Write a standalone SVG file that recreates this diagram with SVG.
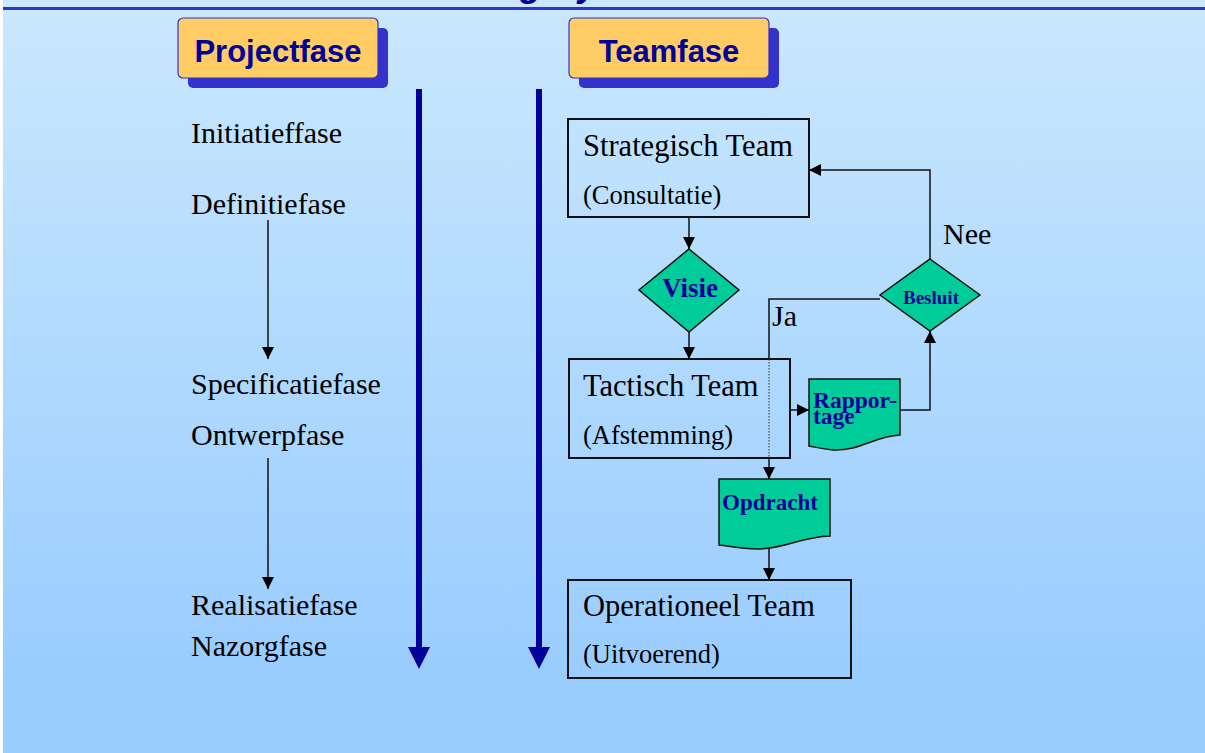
<svg xmlns="http://www.w3.org/2000/svg" width="1205" height="753" viewBox="0 0 1205 753">
  <style>
    .hdr { fill: #ffcc66; stroke: #3333cc; stroke-width: 1.2; }
    .hdr-shadow { fill: #3333cc; }
    .hdr-text { font-family: "Liberation Sans", Arial, sans-serif; font-weight: bold; font-size: 31px; fill: #000099; text-anchor: middle; }
    .phase { font-family: "Liberation Serif", "Times New Roman", serif; font-size: 30px; fill: #000; }
    .team { fill: none; stroke: #111; stroke-width: 2; }
    .t-big { font-family: "Liberation Serif", "Times New Roman", serif; font-size: 30.5px; fill: #000; }
    .t-small { font-family: "Liberation Serif", "Times New Roman", serif; font-size: 26.5px; fill: #000; }
    .shape { fill: #00cc99; stroke: #111; stroke-width: 1.5; }
    .lbl { font-family: "Liberation Serif", "Times New Roman", serif; font-weight: bold; fill: #000099; }
    .conn { fill: none; stroke: #111; stroke-width: 1.5; }
    .flow { stroke: #000099; stroke-width: 6; }
    .edge-text { font-family: "Liberation Serif", "Times New Roman", serif; font-size: 30px; fill: #000; }
    .title { font-family: "Liberation Sans", Arial, sans-serif; font-weight: bold; font-style: italic; font-size: 36px; fill: #000099; }
  </style>
  <defs>
    <linearGradient id="bg" x1="0" y1="0" x2="0" y2="1">
      <stop offset="0" stop-color="#cae8fd"/>
      <stop offset="0.9" stop-color="#99ccff"/>
      <stop offset="1" stop-color="#99ccff"/>
    </linearGradient>
    <marker id="ah" viewBox="0 0 12 12" refX="12" refY="6" markerWidth="12" markerHeight="12" markerUnits="userSpaceOnUse" orient="auto">
      <path d="M0,0 L12,6 L0,12 Z" fill="#000"/>
    </marker>
  </defs>

  <!-- background -->
  <rect x="0" y="0" width="1205" height="753" fill="#ffffff"/>
  <rect x="3" y="0" width="1202" height="753" fill="url(#bg)"/>

  <!-- title: only the descenders reach into the sheet -->
  <text class="title" x="520" y="-4">g</text>
  <text class="title" x="578" y="-4">y</text>
  <rect x="3" y="7" width="1202" height="3" fill="#3333cc"/>

  <!-- column headers -->
  <g id="hdr-project">
    <rect class="hdr-shadow" x="188" y="28" width="200" height="60" rx="5"/>
    <rect class="hdr" x="178" y="18" width="200" height="60" rx="5"/>
    <text class="hdr-text" x="278" y="62">Projectfase</text>
  </g>
  <g id="hdr-team">
    <rect class="hdr-shadow" x="579" y="28" width="200" height="60" rx="5"/>
    <rect class="hdr" x="569" y="18" width="200" height="60" rx="5"/>
    <text class="hdr-text" x="669" y="62">Teamfase</text>
  </g>

  <!-- time axes -->
  <g id="axes">
    <line class="flow" x1="419" y1="89" x2="419" y2="650"/>
    <path d="M408,647 L430,647 L419,669 Z" fill="#000099"/>
    <line class="flow" x1="539" y1="89" x2="539" y2="650"/>
    <path d="M528,647 L550,647 L539,669 Z" fill="#000099"/>
  </g>

  <!-- project phases -->
  <g id="phases">
    <text class="phase" x="191" y="143">Initiatieffase</text>
    <text class="phase" x="191" y="214">Definitiefase</text>
    <text class="phase" x="191" y="394">Specificatiefase</text>
    <text class="phase" x="191" y="445">Ontwerpfase</text>
    <text class="phase" x="191" y="615">Realisatiefase</text>
    <text class="phase" x="191" y="656">Nazorgfase</text>
  </g>

  <!-- team nodes -->
  <g id="strategisch">
    <rect class="team" x="568" y="119" width="241" height="98"/>
    <text class="t-big" x="583" y="156">Strategisch Team</text>
    <text class="t-small" x="583" y="204">(Consultatie)</text>
  </g>
  <g id="visie">
    <path class="shape" d="M689,249 L739,290 L689,332 L639,290 Z"/>
    <text class="lbl" x="690" y="297" font-size="27" text-anchor="middle">Visie</text>
  </g>
  <g id="tactisch">
    <rect class="team" x="569" y="359" width="221" height="99"/>
    <text class="t-big" x="583" y="396">Tactisch Team</text>
    <text class="t-small" x="583" y="444">(Afstemming)</text>
  </g>
  <g id="rapportage">
    <path class="shape" d="M809,379 L900,379 L900,435 C875,436 860,451 833,450 C822,449 815,447 809,446 Z"/>
    <text class="lbl" x="813" y="408" font-size="23.5">Rappor-</text>
    <text class="lbl" x="813" y="424" font-size="23.5">tage</text>
  </g>
  <g id="besluit">
    <path class="shape" d="M930,259 L980,295 L930,331 L880,295 Z"/>
    <text class="lbl" x="931" y="304" font-size="19" text-anchor="middle">Besluit</text>
  </g>
  <g id="opdracht">
    <path class="shape" d="M719,479 L830,479 L830,536 C800,537 785,549 757,549 C740,549 730,546 719,545 Z"/>
    <text class="lbl" x="722" y="510" font-size="23">Opdracht</text>
  </g>
  <g id="operationeel">
    <rect class="team" x="568" y="580" width="283" height="98"/>
    <text class="t-big" x="583" y="616">Operationeel Team</text>
    <text class="t-small" x="583" y="663">(Uitvoerend)</text>
  </g>

  <!-- connectors -->
  <g id="connectors">
    <line class="conn" x1="268" y1="220" x2="268" y2="359" marker-end="url(#ah)"/>
    <line class="conn" x1="268" y1="458" x2="268" y2="589" marker-end="url(#ah)"/>
    <line class="conn" x1="689" y1="217" x2="689" y2="249" marker-end="url(#ah)"/>
    <line class="conn" x1="689" y1="332" x2="689" y2="359" marker-end="url(#ah)"/>
    <line class="conn" x1="790" y1="410" x2="809" y2="410" marker-end="url(#ah)"/>
    <polyline class="conn" points="900,410 930,410 930,331" marker-end="url(#ah)"/>
    <polyline class="conn" points="930,259 930,170 809,170" marker-end="url(#ah)"/>
    <polyline class="conn" points="880,299 769,299 769,359"/>
    <line x1="769" y1="359" x2="769" y2="458" stroke="#333" stroke-width="1" stroke-dasharray="1.5,1.5"/>
    <line class="conn" x1="769" y1="458" x2="769" y2="479" marker-end="url(#ah)"/>
    <line class="conn" x1="769" y1="549" x2="769" y2="580" marker-end="url(#ah)"/>
    <text class="edge-text" x="943" y="244">Nee</text>
    <text class="edge-text" x="772" y="326">Ja</text>
  </g>
</svg>
